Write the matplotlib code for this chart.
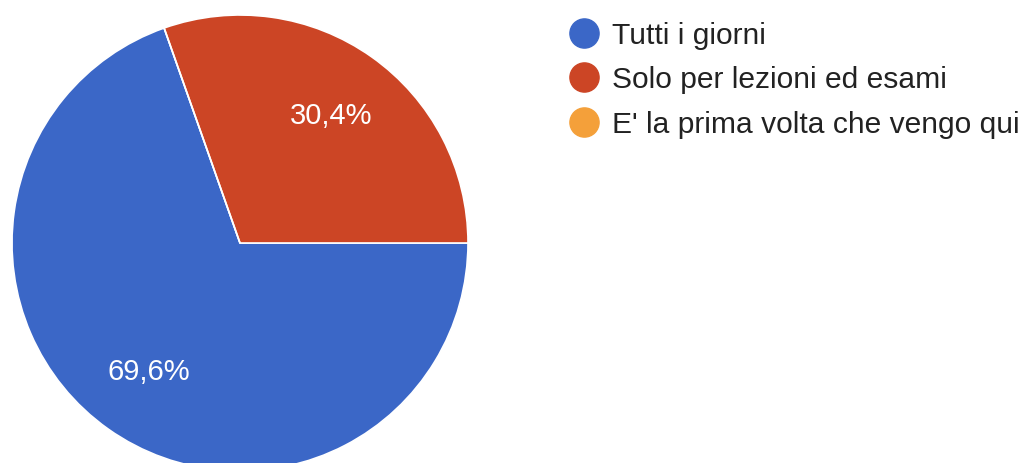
import matplotlib
matplotlib.use("Agg")
import matplotlib.pyplot as plt
from matplotlib.lines import Line2D

plt.rcParams['font.family'] = ['Liberation Sans', 'DejaVu Sans']

categories = ["Tutti i giorni", "Solo per lezioni ed esami", "E' la prima volta che vengo qui"]
values = [69.6, 30.4, 0.0]
colors = ["#3B67C7", "#CC4525", "#F4A03A"]

W, H = 1028, 464
fig = plt.figure(figsize=(W / 100, H / 100), dpi=100)
cx, cy, r = 240, 244, 228
ax = fig.add_axes([(cx - r) / W, (H - cy - r) / H, 2 * r / W, 2 * r / H])

def fmt(p):
    return "" if p < 0.05 else f"{p:.1f}%".replace(".", ",")

wedges, texts, autotexts = ax.pie(
    values, colors=colors, startangle=109.44, counterclock=True,
    autopct=fmt, pctdistance=0.69,
    wedgeprops=dict(edgecolor="white", linewidth=1.2),
    textprops=dict(color="white", fontsize=21), radius=1.0)
ax.set_xlim(-1, 1)
ax.set_ylim(-1, 1)
ax.set_aspect("equal")
ax.axis("off")
for w in wedges:
    w.set_clip_on(False)

handles = [Line2D([0], [0], marker="o", linestyle="none", markersize=21,
                  markerfacecolor=c, markeredgecolor=c) for c in colors]
leg = fig.legend(handles, categories, loc="upper left",
                 bbox_to_anchor=(566 / W, 1 - 22 / H), frameon=False,
                 fontsize=21.6, handletextpad=0.33, labelspacing=0.55,
                 handlelength=1.2, borderaxespad=0, borderpad=0)
for t in leg.get_texts():
    t.set_color("#222222")

fig.savefig("out.png", dpi=100)
